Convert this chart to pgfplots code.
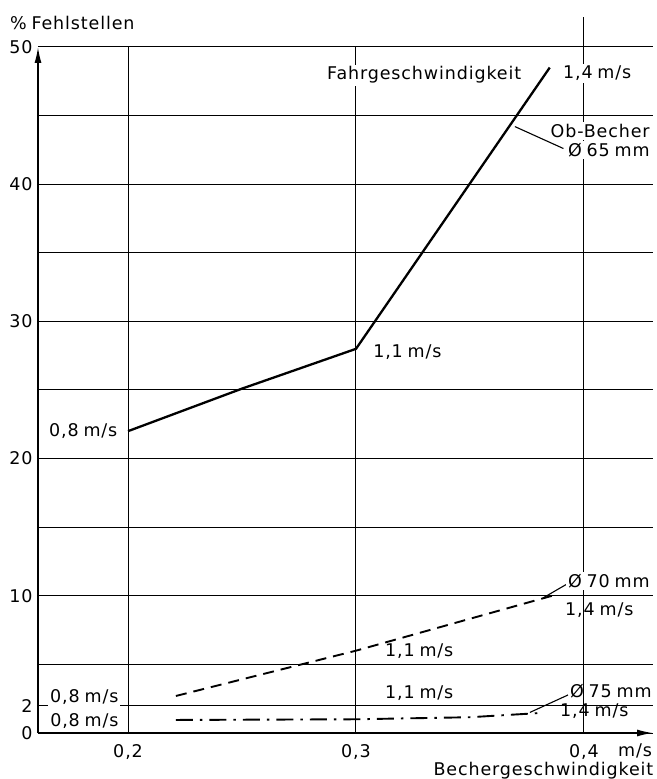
\documentclass[border=0pt]{standalone}
\usepackage{fontspec}
\setmainfont[LetterSpace=5,WordSpace=0.75]{DejaVu Sans}
\usepackage{pgfplots}
\pgfplotsset{compat=1.18}
\usetikzlibrary{arrows.meta}
\newcommand{\fs}{\fontsize{17.5bp}{20bp}\selectfont}
\begin{document}
\begin{tikzpicture}
\begin{axis}[name=ax, scale only axis, width=615bp, height=686bp,
  xmin=0.1605, xmax=0.4303, ymin=0, ymax=50,
  axis lines=left,
  axis line style={line width=1.6bp, -{Latex[length=16bp,width=7bp]}},
  xtick={0.2,0.3,0.4}, xticklabels={{0,2},{0,3},{0,4}},
  ytick={0,2,10,20,30,40,50}, yticklabels={0,2,10,20,30,40,50},
  minor ytick={5,15,25,35,45},
  xmajorgrids, ymajorgrids, yminorgrids,
  major grid style={black, line width=1bp},
  minor grid style={black, line width=1bp},
  major tick length=0pt, minor tick length=0pt,
  /pgf/number format/assume math mode=true,
  ticklabel style={font=\fs},
  xticklabel style={anchor=base, yshift=-24bp, inner sep=0pt},
  yticklabel style={xshift=-2bp},
  clip=false, font=\fs]
% data
\addplot[line width=2.3bp, line join=round] coordinates {(0.2,22) (0.25,25.1) (0.3,28) (0.385,48.5)};
\addplot[line width=1.9bp, dash pattern=on 11bp off 7bp] coordinates {(0.221,2.7) (0.3,6.0) (0.386,10.0)};
\addplot[line width=1.9bp, dash pattern=on 17bp off 7bp on 2.5bp off 7bp] coordinates {(0.221,0.95) (0.3,1.0) (0.35,1.15) (0.38,1.45)};
% grid extension
\draw[line width=1bp] (axis cs:0.4,50) -- (axis cs:0.4,52.2);
% leaders
\draw[line width=1.1bp] (axis cs:0.3697,44.2) -- (axis cs:0.391,42.6);
\draw[line width=1.1bp] (axis cs:0.382,9.84) -- (axis cs:0.393,10.9);
\draw[line width=1.1bp] (axis cs:0.3763,1.5) -- (axis cs:0.393,2.77);
% labels
\node[anchor=base west, inner sep=0pt] at (axis cs:0.1482,51.3) {\% Fehlstellen};
\node[anchor=base west, fill=white, inner sep=2pt] at (axis cs:0.2864,47.6) {Fahrgeschwindigkeit};
\node[anchor=base west, fill=white, inner sep=2pt] at (axis cs:0.3899,47.7) {1,4 m/s};
\node[anchor=base east, fill=white, inner sep=2pt] at (axis cs:0.4298,43.4) {Ob-Becher};
\node[anchor=base east, fill=white, inner sep=2pt] at (axis cs:0.4298,42.0) {Ø 65 mm};
\node[anchor=base west, inner sep=0pt] at (axis cs:0.3075,27.4) {1,1 m/s};
\node[anchor=base west, inner sep=0pt] at (axis cs:0.1653,21.6) {0,8 m/s};
\node[anchor=base east, fill=white, inner sep=2pt] at (axis cs:0.4298,10.64) {Ø 70 mm};
\node[anchor=base west, inner sep=0pt] at (axis cs:0.3917,8.6) {1,4 m/s};
\node[anchor=base west, inner sep=0pt] at (axis cs:0.3127,5.54) {1,1 m/s};
\node[anchor=base west, inner sep=0pt] at (axis cs:0.3127,2.55) {1,1 m/s};
\node[anchor=base east, inner sep=0pt] at (axis cs:0.4298,2.62) {Ø 75 mm};
\node[anchor=base west, inner sep=0pt] at (axis cs:0.3895,1.17) {1,4 m/s};
\node[anchor=base west, fill=white, inner sep=2pt] at (axis cs:0.1649,2.19) {0,8 m/s};
\node[anchor=base west, inner sep=0pt] at (axis cs:0.1658,0.51) {0,8 m/s};
\node[anchor=base west, inner sep=0pt] at (axis cs:0.4149,-1.68) {m/s};
\node[anchor=base east, inner sep=0pt] at (axis cs:0.4305,-3.1) {Bechergeschwindigkeit};
\end{axis}
\pgfresetboundingbox
\path[use as bounding box] ([shift={(-38bp,-46bp)}]ax.south west) rectangle ([shift={(4bp,47bp)}]ax.north east);
\end{tikzpicture}
\end{document}
